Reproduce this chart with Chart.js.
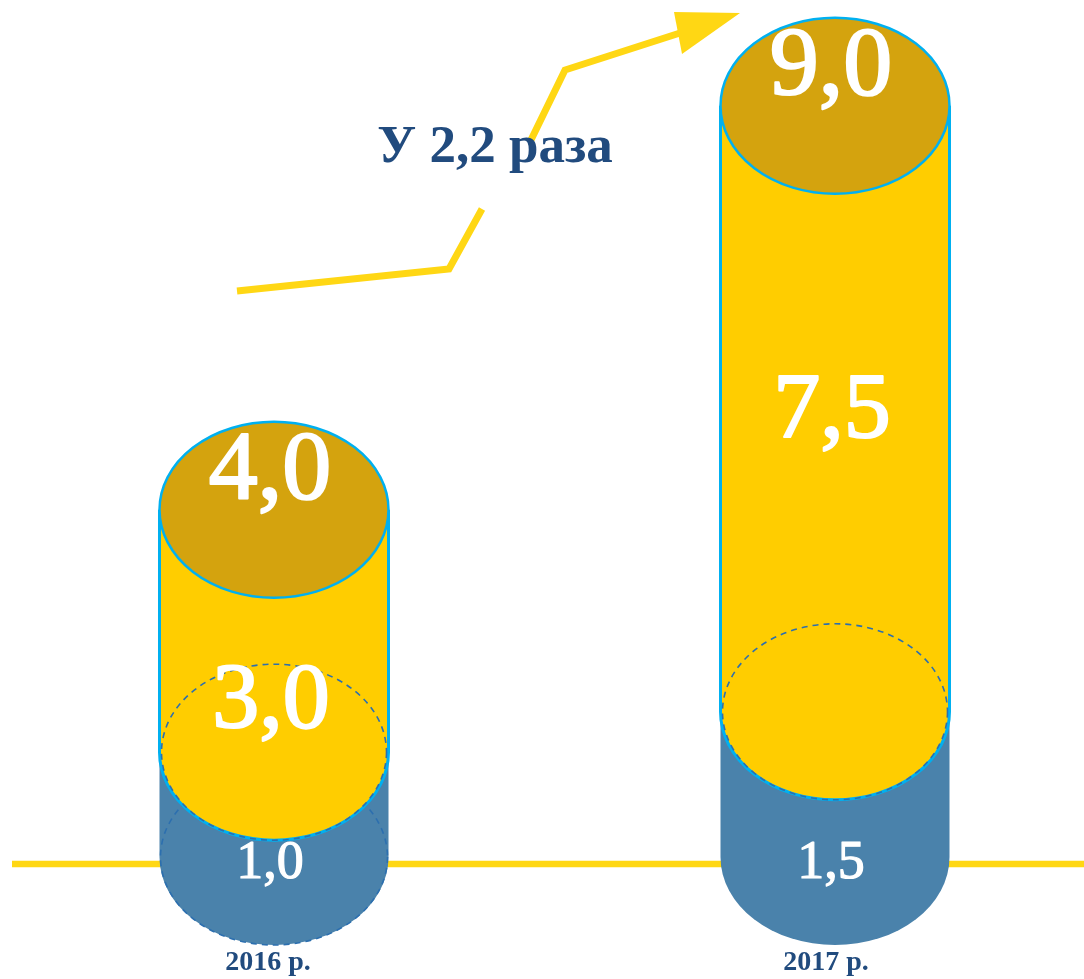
<!DOCTYPE html>
<html>
<head>
<meta charset="utf-8">
<script src="https://cdn.jsdelivr.net/npm/chart.js@4"></script>
<style>
  html, body { margin: 0; padding: 0; background: #ffffff; }
  #wrap { width: 1084px; height: 979px; position: relative; }
</style>
</head>
<body>
<div id="wrap"><canvas id="c" width="1084" height="979"></canvas></div>
<script>
// ---- data ----
const categories = ['2016 р.', '2017 р.'];
const baseValues = [1.0, 1.5];     // blue lower segment
const upperValues = [3.0, 7.5];    // yellow segment
const growthLabel = 'У 2,2 раза';
const yMin = 0;
const yMax = 10;

const fmt = v => v.toFixed(1).replace('.', ',');

const COL_BLUE = '#4A82AB';
const COL_YELLOW = '#FFCD00';
const COL_CAP = '#D4A30E';
const COL_EDGE = '#00B0F0';
const COL_DASH = '#2C6FAF';
const COL_LINE = '#FFD714';
const COL_TEXT = '#214B7E';
const RY = 88;      // ellipse vertical radius (perspective)
const DEPTH = 24;   // visual depth of cylinder base below the zero line

function halfLowerPath(ctx, cx, cy, rx) {
  ctx.ellipse(cx, cy, rx, RY, 0, Math.PI, 0, true);
}

function bigText(ctx, txt, x, y, px) {
  ctx.font = px + 'px "Liberation Serif", serif';
  ctx.lineWidth = px > 70 ? 2.2 : 1.2;
  ctx.strokeStyle = '#ffffff';
  ctx.lineJoin = 'round';
  ctx.strokeText(txt, x, y);
  ctx.fillText(txt, x, y);
}

const cylinderPlugin = {
  id: 'cylinders',
  beforeDatasetsDraw(chart) {
    const ctx = chart.ctx;
    const y0 = chart.scales.y.getPixelForValue(0) + DEPTH;
    ctx.save();
    ctx.strokeStyle = COL_LINE;
    ctx.lineWidth = 6.5;
    ctx.beginPath();
    ctx.moveTo(12, y0 + 7);
    ctx.lineTo(1084, y0 + 7);
    ctx.stroke();
    ctx.restore();
  },
  afterDatasetsDraw(chart) {
    const ctx = chart.ctx;
    const m0 = chart.getDatasetMeta(0);
    const m1 = chart.getDatasetMeta(1);
    ctx.save();
    for (let i = 0; i < categories.length; i++) {
      const b = m0.data[i], u = m1.data[i];
      const cx = b.x, w = b.width, rx = w / 2;
      const L = cx - rx, R = cx + rx;
      const y0 = b.base + DEPTH, y1 = b.y, y2 = u.y;

      // blue body
      ctx.beginPath();
      ctx.moveTo(L, y1);
      ctx.lineTo(L, y0);
      halfLowerPath(ctx, cx, y0, rx);
      ctx.lineTo(R, y1);
      ctx.closePath();
      ctx.fillStyle = COL_BLUE;
      ctx.fill();

      if (i === 0) {
        ctx.save();
        ctx.setLineDash([6, 5]);
        ctx.strokeStyle = COL_DASH;
        ctx.lineWidth = 1.6;
        ctx.beginPath();
        ctx.ellipse(cx, y0, rx - 1, RY, 0, 0, Math.PI * 2);
        ctx.stroke();
        ctx.restore();
      }

      // yellow body
      ctx.beginPath();
      ctx.moveTo(L, y2);
      ctx.lineTo(L, y1);
      halfLowerPath(ctx, cx, y1, rx);
      ctx.lineTo(R, y2);
      ctx.closePath();
      ctx.fillStyle = COL_YELLOW;
      ctx.fill();
      ctx.beginPath();
      ctx.moveTo(L, y2);
      ctx.lineTo(L, y1);
      halfLowerPath(ctx, cx, y1, rx);
      ctx.lineTo(R, y2);
      ctx.strokeStyle = COL_EDGE;
      ctx.lineWidth = 3;
      ctx.stroke();

      // dashed ellipse at junction
      ctx.save();
      ctx.setLineDash([6, 5]);
      ctx.strokeStyle = COL_DASH;
      ctx.lineWidth = 1.6;
      ctx.beginPath();
      ctx.ellipse(cx, y1, rx - 2, RY, 0, 0, Math.PI * 2);
      ctx.stroke();
      ctx.restore();

      // top cap
      ctx.beginPath();
      ctx.ellipse(cx, y2, rx, RY, 0, 0, Math.PI * 2);
      ctx.fillStyle = COL_CAP;
      ctx.fill();
      ctx.strokeStyle = COL_EDGE;
      ctx.lineWidth = 2.5;
      ctx.stroke();

      // value labels
      ctx.fillStyle = '#ffffff';
      ctx.textAlign = 'center';
      ctx.textBaseline = 'alphabetic';
      bigText(ctx, fmt(baseValues[i] + upperValues[i]), cx - 4, y2 - 12, 98);
      ctx.textBaseline = 'middle';
      const midY = i === 0 ? y1 - 50 : (y1 + y2) / 2 + 4;
      bigText(ctx, fmt(upperValues[i]), cx - 3, midY, 94);
      bigText(ctx, fmt(baseValues[i]), cx - 4, y0 + 7, 54);

      // category label
      ctx.fillStyle = COL_TEXT;
      ctx.font = 'bold 28px "Liberation Serif", serif';
      ctx.fillText(categories[i], cx - 6 - 3 * i, 963);
    }

    // growth arrow
    ctx.strokeStyle = COL_LINE;
    ctx.fillStyle = COL_LINE;
    ctx.lineWidth = 7;
    ctx.lineJoin = 'miter';
    ctx.setLineDash([]);
    ctx.beginPath();
    ctx.moveTo(237, 291);
    ctx.lineTo(449, 269);
    ctx.lineTo(482, 209);
    ctx.stroke();
    ctx.beginPath();
    ctx.moveTo(530, 142);
    ctx.lineTo(565, 70);
    ctx.lineTo(680, 33);
    ctx.stroke();
    ctx.beginPath();
    ctx.moveTo(674, 12);
    ctx.lineTo(740, 13);
    ctx.lineTo(682, 54);
    ctx.closePath();
    ctx.fill();

    ctx.fillStyle = COL_TEXT;
    ctx.font = 'bold 53px "Liberation Serif", serif';
    ctx.textAlign = 'center';
    ctx.textBaseline = 'alphabetic';
    ctx.fillText(growthLabel, 495, 162);
    ctx.restore();
  }
};

new Chart(document.getElementById('c'), {
  type: 'bar',
  data: {
    labels: categories,
    datasets: [
      { data: baseValues, backgroundColor: 'rgba(0,0,0,0)', borderWidth: 0, barThickness: 229 },
      { data: upperValues, backgroundColor: 'rgba(0,0,0,0)', borderWidth: 0, barThickness: 229 }
    ]
  },
  options: {
    responsive: false,
    devicePixelRatio: 1,
    animation: false,
    layout: { padding: { left: 274, right: 249, top: 25, bottom: 146 } },
    plugins: { legend: { display: false }, tooltip: { enabled: false } },
    scales: {
      x: { display: false, stacked: true, offset: false },
      y: { display: false, stacked: true, min: yMin, max: yMax }
    }
  },
  plugins: [cylinderPlugin]
});
</script>
</body>
</html>
